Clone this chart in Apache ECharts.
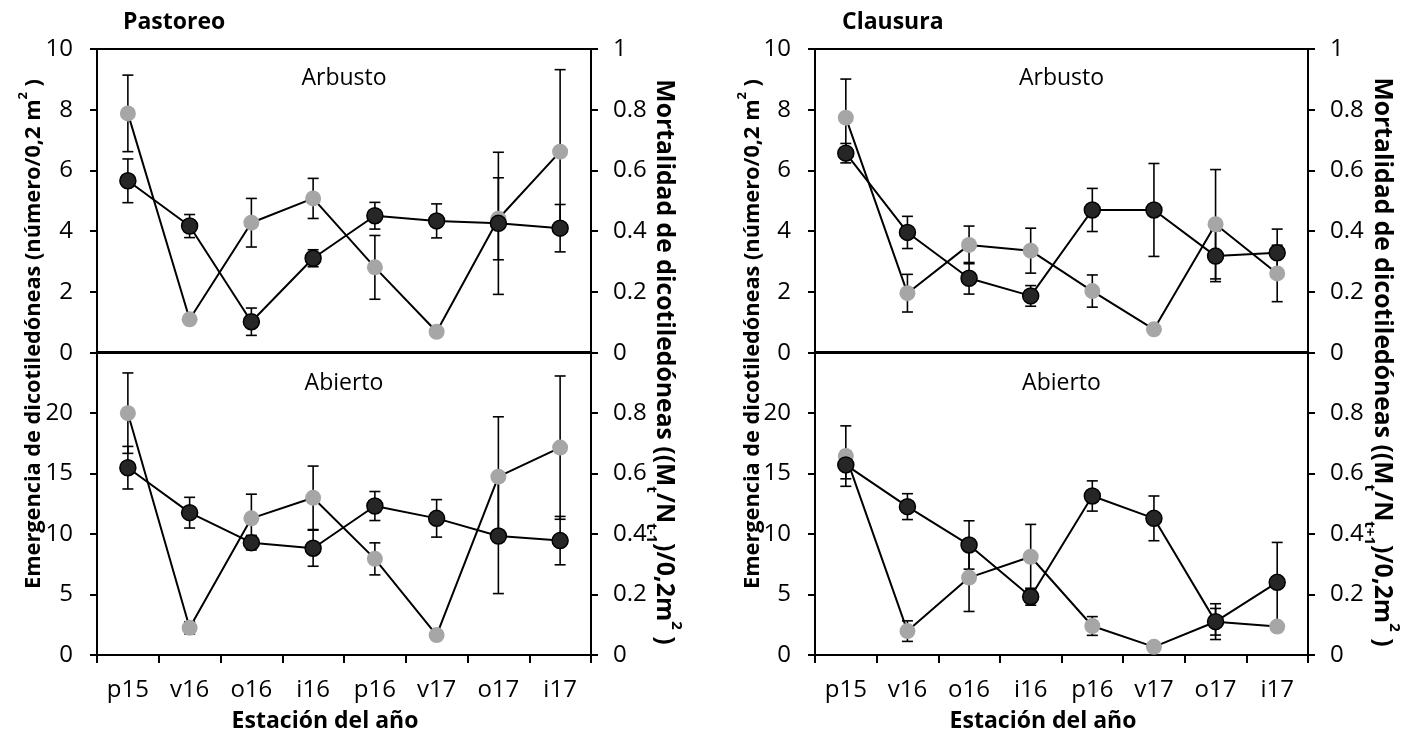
<!DOCTYPE html>
<html>
<head>
<meta charset="utf-8">
<script src="https://cdn.jsdelivr.net/npm/echarts@6/dist/echarts.min.js"></script>
<style>
  html, body { margin: 0; padding: 0; background: #fff; }
  #chart { width: 1426px; height: 740px; }
</style>
</head>
<body>
<div id="chart"></div>
<script>
// Seasons (p = primavera, v = verano, o = otoño, i = invierno)
const categories = ['p15', 'v16', 'o16', 'i16', 'p16', 'v17', 'o17', 'i17'];

// Pastoreo – Arbusto
const emergPastArb    = [5.66, 4.17, 1.02, 3.11, 4.51, 4.34, 4.26, 4.10];
const emergPastArbErr = [0.72, 0.38, 0.45, 0.28, 0.44, 0.56, 2.34, 0.78];
const mortPastArb     = [0.788, 0.11, 0.428, 0.508, 0.281, 0.069, 0.441, 0.662];
const mortPastArbErr  = [0.126, 0, 0.08, 0.066, 0.105, 0, 0.135, 0.27];

// Pastoreo – Abierto
const emergPastAb    = [15.49, 11.77, 9.29, 8.83, 12.32, 11.30, 9.84, 9.46];
const emergPastAbErr = [1.76, 1.27, 0.6, 1.49, 1.2, 1.55, 4.76, 2.0];
const mortPastAb     = [0.80, 0.09, 0.452, 0.52, 0.318, 0.066, 0.59, 0.686];
const mortPastAbErr  = [0.133, 0.02, 0.08, 0.105, 0.053, 0, 0.198, 0.237];

// Clausura – Arbusto
const emergClauArb    = [6.57, 3.96, 2.45, 1.87, 4.70, 4.70, 3.18, 3.29];
const emergClauArbErr = [0.32, 0.53, 0.52, 0.34, 0.71, 1.53, 0.84, 0.78];
const mortClauArb     = [0.774, 0.196, 0.355, 0.336, 0.203, 0.077, 0.423, 0.261];
const mortClauArbErr  = [0.127, 0.062, 0.062, 0.074, 0.053, 0, 0.18, 0.093];

// Clausura – Abierto
const emergClauAb    = [15.72, 12.27, 9.1, 4.82, 13.15, 11.3, 2.76, 6.01];
const emergClauAbErr = [1.15, 1.07, 2.0, 0.7, 1.25, 1.85, 1.48, 3.3];
const mortClauAb     = [0.658, 0.079, 0.256, 0.325, 0.096, 0.027, 0.11, 0.094];
const mortClauAbErr  = [0.1, 0.034, 0.112, 0.107, 0.031, 0, 0.044, 0.01];

// Axis ranges
const emergTopRange = { min: 0, max: 10, interval: 2 };
const emergBotRange = { min: 0, max: 25, interval: 5 };
const mortRange     = { min: 0, max: 1, interval: 0.2 };

const FONT = "'Open Sans', 'DejaVu Sans', sans-serif";
const TITLE_FONT = "'Liberation Sans Narrow', 'Open Sans', sans-serif";
const DARK = '#262626';
const GREY = '#a6a6a6';

const chart = echarts.init(document.getElementById('chart'), null, { renderer: 'canvas' });

// Plot areas: [left, top, width, height]
const grids = [
  { left: 97,  top: 49,    width: 494, height: 303.7 },  // Pastoreo Arbusto
  { left: 97,  top: 352.7, width: 494, height: 302.3 },  // Pastoreo Abierto
  { left: 815, top: 49,    width: 493, height: 303.7 },  // Clausura Arbusto
  { left: 815, top: 352.7, width: 493, height: 302.3 }   // Clausura Abierto
];

const axisLineStyle = { color: '#000', width: 2 };
const tickStyle = { color: '#000', width: 2 };

function fmtMort(hideOne) {
  return function (v) {
    if (Math.abs(v) < 1e-9) return '0';
    if (Math.abs(v - 1) < 1e-9) return hideOne ? '' : '1';
    return v.toFixed(1);
  };
}

const xAxes = grids.map((g, i) => {
  const bottom = (i % 2 === 1);
  return {
    type: 'category', gridIndex: i, data: categories, boundaryGap: true,
    axisLine: { show: true, lineStyle: { color: '#000', width: bottom ? 2 : 3 } },
    axisTick: { show: bottom, inside: false, length: 8, alignWithLabel: false, lineStyle: tickStyle },
    axisLabel: { show: bottom, fontSize: 24, fontFamily: FONT, color: '#000', margin: 23 },
    splitLine: { show: false }
  };
});

const yAxes = [];
grids.forEach((g, i) => {
  const bottom = (i % 2 === 1);
  const r = bottom ? emergBotRange : emergTopRange;
  yAxes.push({
    type: 'value', gridIndex: i, position: 'left',
    min: r.min, max: r.max, interval: r.interval,
    axisLine: { show: true, lineStyle: axisLineStyle },
    axisTick: { show: true, inside: false, length: 7, lineStyle: tickStyle },
    axisLabel: {
      fontSize: 24, fontFamily: FONT, color: '#000', margin: 24,
      formatter: v => (bottom && v === r.max) ? '' : String(v)
    },
    splitLine: { show: false }
  });
  yAxes.push({
    type: 'value', gridIndex: i, position: 'right',
    min: mortRange.min, max: mortRange.max, interval: mortRange.interval,
    axisLine: { show: true, lineStyle: axisLineStyle },
    axisTick: { show: true, inside: false, length: 7, lineStyle: tickStyle },
    axisLabel: { fontSize: 24, fontFamily: FONT, color: '#000', margin: 22, formatter: fmtMort(bottom) },
    splitLine: { show: false }
  });
});

// Vertical error bars with caps, drawn through the axis scales
function errorSeries(gridIdx, yIdx, values, errs) {
  return {
    type: 'custom', xAxisIndex: gridIdx, yAxisIndex: yIdx, silent: true, animation: false,
    data: values.map((v, i) => [i, v, errs[i]]),
    renderItem: function (params, api) {
      const i = api.value(0), v = api.value(1), e = api.value(2);
      if (!e) return null;
      const hi = api.coord([i, v + e]);
      const lo = api.coord([i, v - e]);
      const hw = 5.5;
      const st = { stroke: '#000', lineWidth: 1.6 };
      return {
        type: 'group', children: [
          { type: 'line', shape: { x1: hi[0], y1: hi[1], x2: lo[0], y2: lo[1] }, style: st },
          { type: 'line', shape: { x1: hi[0] - hw, y1: hi[1], x2: hi[0] + hw, y2: hi[1] }, style: st },
          { type: 'line', shape: { x1: lo[0] - hw, y1: lo[1], x2: lo[0] + hw, y2: lo[1] }, style: st }
        ]
      };
    }
  };
}

function lineSeries(gridIdx, yIdx, values, dark) {
  return {
    type: 'line', xAxisIndex: gridIdx, yAxisIndex: yIdx, data: values,
    symbol: 'circle', symbolSize: 16, animation: false, silent: true,
    lineStyle: { color: '#000', width: 2 },
    itemStyle: dark
      ? { color: DARK, borderColor: '#000', borderWidth: 1.5 }
      : { color: GREY, borderColor: GREY, borderWidth: 0 }
  };
}

const panels = [
  { e: emergPastArb, ee: emergPastArbErr, m: mortPastArb, me: mortPastArbErr },
  { e: emergPastAb,  ee: emergPastAbErr,  m: mortPastAb,  me: mortPastAbErr },
  { e: emergClauArb, ee: emergClauArbErr, m: mortClauArb, me: mortClauArbErr },
  { e: emergClauAb,  ee: emergClauAbErr,  m: mortClauAb,  me: mortClauAbErr }
];

const series = [];
panels.forEach((p, g) => {
  series.push(errorSeries(g, 2 * g + 1, p.m, p.me));
  series.push(lineSeries(g, 2 * g + 1, p.m, false));
  series.push(errorSeries(g, 2 * g, p.e, p.ee));
  series.push(lineSeries(g, 2 * g, p.e, true));
});

// Fit rotated axis titles to a given length
const measureCtx = document.createElement('canvas').getContext('2d');
function widthAt(text, size, weight, family) {
  measureCtx.font = weight + ' ' + size + 'px ' + family;
  return measureCtx.measureText(text).width;
}
function fitSize(parts, target, weight, family) {
  // parts: [text, scale] pairs, scale relative to main size
  let w = 0;
  parts.forEach(([t, s]) => { w += widthAt(t, 100 * s, weight, family); });
  return 100 * target / w;
}

const leftTitleParts = [['Emergencia de dicotiledóneas (número/0,2 m', 1], ['2', 0.6], [' )', 1]];
const rightTitleParts = [['Mortalidad de dicotiledóneas ((M', 1], ['t', 0.6], ['/N', 1], ['t-1', 0.6], [')/0,2m', 1], ['2', 0.6], [' )', 1]];
const leftSize = Math.min(26, fitSize(leftTitleParts, 510, 'bold', TITLE_FONT));
const rightSize = Math.min(26, fitSize(rightTitleParts, 565, 'bold', TITLE_FONT));

function richFor(size) {
  const lh = Math.round(size * 1.6);
  return {
    b:   { fontSize: size, fontWeight: 'bold', fontFamily: TITLE_FONT, lineHeight: lh, verticalAlign: 'middle', fill: '#000' },
    sup: { fontSize: Math.round(size * 0.6), fontWeight: 'bold', fontFamily: TITLE_FONT, lineHeight: lh, verticalAlign: 'top', fill: '#000' },
    sub: { fontSize: Math.round(size * 0.6), fontWeight: 'bold', fontFamily: TITLE_FONT, lineHeight: lh, verticalAlign: 'bottom', fill: '#000' }
  };
}

const leftTitleText = '{b|Emergencia de dicotiledóneas (número/0,2 m}{sup|2}{b| )}';
const rightTitleText = '{b|Mortalidad de dicotiledóneas ((M}{sub|t}{b|/N}{sub|t-1}{b|)/0,2m}{sup|2}{b| )}';
const rightTitleText2 = '{b|Mortalidad de dicotiledóneas ((M}{sub|t}{b|/N}{sub|t+1}{b|)/0,2m}{sup|2}{b| )}';

function plainText(x, y, text, size, weight, align) {
  return {
    type: 'text', x: x, y: y, silent: true,
    style: { text: text, fontSize: size, fontWeight: weight, fontFamily: FONT, fill: '#000',
             align: align || 'center', verticalAlign: 'middle' }
  };
}
function rotatedTitle(x, y, text, size, rot) {
  return {
    type: 'text', x: x, y: y, rotation: rot, silent: true,
    style: { text: text, rich: richFor(size), align: 'center', verticalAlign: 'middle', fill: '#000' }
  };
}

const graphics = [
  plainText(123, 22, 'Pastoreo', 23, 'bold', 'left'),
  plainText(842, 22, 'Clausura', 23, 'bold', 'left'),
  plainText(344, 78, 'Arbusto', 23, 'normal'),
  plainText(344, 383, 'Abierto', 23, 'normal'),
  plainText(1061.5, 78, 'Arbusto', 23, 'normal'),
  plainText(1061.5, 383, 'Abierto', 23, 'normal'),
  plainText(325, 721, 'Estación del año', 23, 'bold'),
  plainText(1043, 721, 'Estación del año', 23, 'bold'),
  rotatedTitle(34, 334, leftTitleText, leftSize, Math.PI / 2),
  rotatedTitle(753, 334, leftTitleText, leftSize, Math.PI / 2),
  rotatedTitle(664, 362, rightTitleText, rightSize, -Math.PI / 2),
  rotatedTitle(1382, 362, rightTitleText2, rightSize, -Math.PI / 2)
];

chart.setOption({
  animation: false,
  backgroundColor: '#fff',
  grid: grids.map(g => Object.assign({ show: true, borderColor: '#000', borderWidth: 2, backgroundColor: 'transparent', containLabel: false }, g)),
  xAxis: xAxes,
  yAxis: yAxes,
  series: series,
  graphic: graphics
});
</script>
</body>
</html>
